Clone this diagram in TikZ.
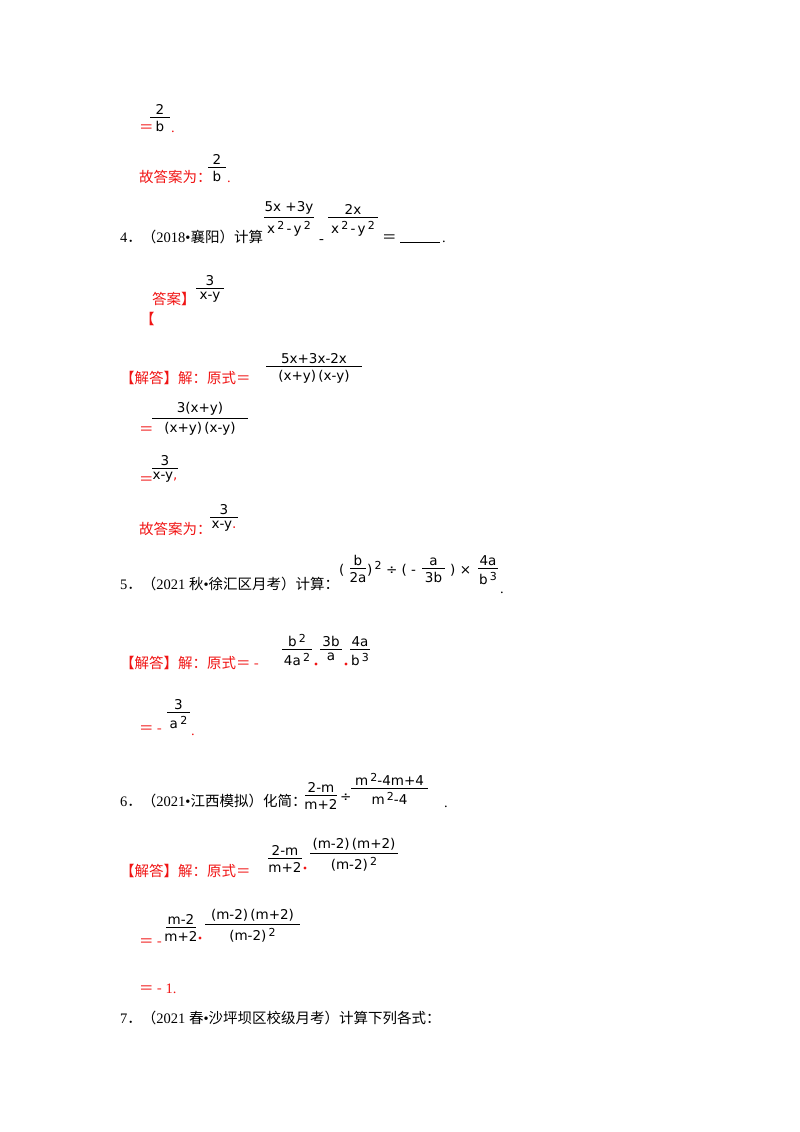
\documentclass[tikz,border=0pt]{standalone}
\usepackage{fontspec}
\setmainfont{Liberation Serif}
\newfontfamily\cjk{Noto Sans CJK SC}
\newfontfamily\mth{DejaVu Sans}
\definecolor{ans}{RGB}{240,20,20}
\newcommand{\fr}[5]{%
  \draw[fracline] (#1,#3) -- (#2,#3);
  \node[fnum] at ({(#1+#2)/2},#3-1.5) {#4};
  \node[fden] at ({(#1+#2)/2},#3+3) {#5};}
\newcommand{\sq}[1]{\,\raisebox{0.55ex}{\fontsize{11}{12}\selectfont #1}}
\begin{document}
\begin{tikzpicture}[x=1pt,y=-1pt,
  every node/.style={font=\fontsize{14.5}{17}\selectfont,inner sep=0pt},
  txt/.style={anchor=base west},
  red/.style={text=ans},
  fracline/.style={line width=0.7pt},
  fnum/.style={anchor=south,inner sep=1pt,font=\mth\fontsize{13.5}{15}\selectfont},
  fden/.style={anchor=north,inner sep=1pt,font=\mth\fontsize{13.5}{15}\selectfont}]
\useasboundingbox (0,0) rectangle (800,1132);
% line 1
\fr{150}{170}{117}{2}{b}
\node[txt,red] (e1) at (139,132) {\cjk ＝};
\node[txt,red] (p1) at (171,132) {.};
\node[txt,red] (g1) at (139,182) {\cjk 故答案为：};
\fr{208}{226}{167}{2}{b}
\node[txt,red] (p2) at (227,182) {.};
% Q4
\node[txt] (q4) at (120,242) {4{\cjk ．（}2018•{\cjk 襄阳）计算}};
\fr{264}{314}{217}{5x +3y}{x\sq{2}\,-\,y\sq{2}}
\node[txt] (m4) at (319,243) {-};
\fr{328}{378}{217}{2x}{x\sq{2}\,-\,y\sq{2}}
\node[txt] (eq4) at (382,242) {\cjk ＝};
\draw (400,242) -- (440,242);
\node[txt] (pd4) at (442,242) {.};
\node[txt,red] (da) at (152,304) {\cjk 答案】};
\fr{196}{224}{288}{3}{x-y}
\node[txt,red] (lb) at (140,324) {\cjk 【};
\node[txt,red] (jd1) at (120,383) {\cjk 【解答】解：原式＝};
\fr{266}{362}{366}{5x+3x-2x}{(x+y)\,(x-y)}
\node[txt,red] (e2) at (139,434) {\cjk ＝};
\fr{152}{248}{418}{3(x+y)}{(x+y)\,(x-y)}
\node[txt,red] (e3) at (139,484) {\cjk ＝};
\fr{152}{178}{468}{3}{x-y\textcolor{ans}{,}}
\node[txt,red] (g2) at (139,534) {\cjk 故答案为：};
\fr{210}{238}{517}{3}{x-y\textcolor{ans}{.}}
% Q5
\node[txt] (q5) at (120,589) {5{\cjk ．（}2021 {\cjk 秋}•{\cjk 徐汇区月考）计算：}};
\node[txt,font=\mth\fontsize{13.5}{15}\selectfont] (l1) at (339,574) {(};
\fr{350}{366}{568}{b}{2a}
\node[txt,font=\mth\fontsize{13.5}{15}\selectfont] (r1) at (367,574) {)\sq{2} ÷ ( -};
\fr{422}{445}{568}{a}{3b}
\node[txt,font=\mth\fontsize{13.5}{15}\selectfont] (r2) at (450,574) {) ×};
\fr{478}{498}{568}{4a}{b\sq{3}}
\node[txt] (p5) at (500,593) {.};
\node[txt,red] (jd2) at (120,668) {\cjk 【解答】解：原式＝ -};
\fr{282}{312}{649}{b\sq{2}}{4a\sq{2}}
\fill[ans] (316,664) circle (1.6);
\fr{320}{342}{649}{3b}{a}
\fill[ans] (346,664) circle (1.6);
\fr{350}{370}{649}{4a}{b\sq{3}}
\node[txt,red] (e4) at (139,733) {\cjk ＝ -};
\fr{167}{190}{712}{3}{a\sq{2}}
\node[txt,red] (p6) at (191,735) {.};
% Q6
\node[txt] (q6) at (120,806) {6{\cjk ．（}2021•{\cjk 江西模拟）化简：}};
\fr{305}{337}{795}{2-m}{m+2}
\node[txt,font=\mth\fontsize{13.5}{15}\selectfont] (dv) at (340,801) {÷};
\fr{351}{428}{788}{m\sq{2}-4m+4}{m\sq{2}-4}
\node[txt] (p7) at (444,807) {.};
\node[txt,red] (jd3) at (120,876) {\cjk 【解答】解：原式＝};
\fr{268}{302}{858}{2-m}{m+2}
\fill[ans] (305,868) circle (1.6);
\fr{310}{398}{853}{(m-2)\,(m+2)}{(m-2)\sq{2}}
\node[txt,red] (e5) at (139,946) {\cjk ＝ -};
\fr{166}{196}{927}{m-2}{m+2}
\fill[ans] (200,938) circle (1.6);
\fr{205}{300}{924}{(m-2)\,(m+2)}{(m-2)\sq{2}}
\node[txt,red] (e6) at (139,993) {{\cjk ＝ -} 1.};
% Q7
\node[txt] (q7) at (120,1023) {7{\cjk ．（}2021 {\cjk 春}•{\cjk 沙坪坝区校级月考）计算下列各式：}};
\end{tikzpicture}
\end{document}
